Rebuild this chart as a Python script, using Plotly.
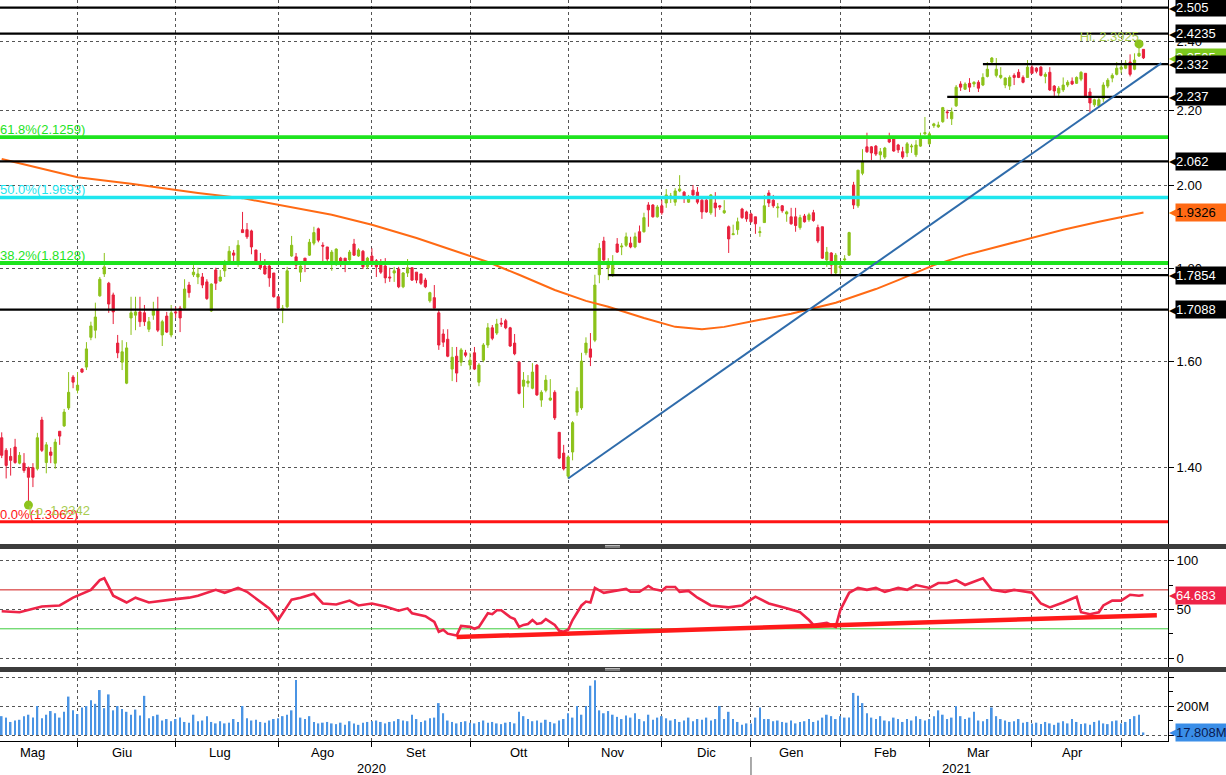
import math
import pandas as pd
import plotly.graph_objects as go

# ---------------- data ----------------
holidays = ["2020-12-24", "2020-12-25", "2020-12-31", "2021-01-01", "2021-04-02", "2021-04-05"]
trade_days = pd.bdate_range("2020-05-07", "2021-05-17", freq="C", holidays=holidays)
dates = [d.strftime("%Y-%m-%d") for d in trade_days]

opens = [
    1.453, 1.430, 1.419, 1.436, 1.407, 1.407, 1.399, 1.399, 1.397, 1.486,
    1.408, 1.427, 1.407, 1.465, 1.475, 1.509, 1.569, 1.543, 1.585, 1.589,
    1.650, 1.665, 1.739, 1.788, 1.767, 1.741, 1.638, 1.599, 1.557, 1.691,
    1.697, 1.704, 1.702, 1.667, 1.697, 1.708, 1.655, 1.695, 1.655, 1.704,
    1.712, 1.712, 1.763, 1.786, 1.781, 1.781, 1.770, 1.706, 1.797, 1.772,
    1.795, 1.815, 1.836, 1.815, 1.891, 1.891, 1.888, 1.843, 1.813, 1.806,
    1.806, 1.790, 1.737, 1.708, 1.715, 1.829, 1.827, 1.792, 1.824, 1.831,
    1.859, 1.893, 1.854, 1.850, 1.813, 1.815, 1.824, 1.824, 1.820, 1.857,
    1.829, 1.840, 1.804, 1.829, 1.818, 1.808, 1.806, 1.781, 1.790, 1.799,
    1.759, 1.790, 1.802, 1.792, 1.788, 1.774, 1.728, 1.735, 1.702, 1.657,
    1.646, 1.585, 1.611, 1.599, 1.618, 1.593, 1.618, 1.559, 1.603, 1.634,
    1.670, 1.659, 1.680, 1.685, 1.670, 1.638, 1.599, 1.551, 1.557, 1.547,
    1.593, 1.524, 1.543, 1.524, 1.539, 1.463, 1.425, 1.384, 1.427, 1.501,
    1.509, 1.618, 1.626, 1.644, 1.786, 1.864, 1.802, 1.786, 1.857, 1.850,
    1.854, 1.859, 1.850, 1.886, 1.886, 1.951, 1.951, 1.922, 1.949, 1.956,
    1.971, 1.958, 1.986, 1.983, 1.958, 1.988, 1.983, 1.963, 1.963, 1.932,
    1.956, 1.949, 1.932, 1.898, 1.879, 1.891, 1.941, 1.934, 1.929, 1.922,
    1.884, 1.908, 1.981, 1.963, 1.944, 1.949, 1.929, 1.922, 1.922, 1.896,
    1.924, 1.915, 1.932, 1.896, 1.898, 1.820, 1.836, 1.790, 1.802, 1.820,
    1.831, 2.001, 1.949, 2.031, 2.100, 2.100, 2.102, 2.079, 2.073, 2.124,
    2.121, 2.105, 2.087, 2.084, 2.100, 2.079, 2.102, 2.135, 2.108, 2.157,
    2.154, 2.168, 2.195, 2.176, 2.212, 2.274, 2.259, 2.276, 2.274, 2.279,
    2.271, 2.296, 2.338, 2.299, 2.293, 2.271, 2.268, 2.299, 2.308, 2.293,
    2.293, 2.323, 2.320, 2.323, 2.296, 2.308, 2.268, 2.248, 2.257, 2.271,
    2.282, 2.276, 2.288, 2.305, 2.251, 2.215, 2.212, 2.232, 2.268, 2.291,
    2.302, 2.317, 2.320, 2.338, 2.317, 2.356, 2.376,
]
highs = [
    1.463, 1.434, 1.434, 1.451, 1.427, 1.425, 1.401, 1.407, 1.462, 1.492,
    1.445, 1.436, 1.451, 1.465, 1.507, 1.579, 1.573, 1.579, 1.587, 1.640,
    1.683, 1.724, 1.781, 1.836, 1.770, 1.746, 1.655, 1.644, 1.640, 1.737,
    1.737, 1.737, 1.719, 1.693, 1.726, 1.737, 1.687, 1.704, 1.719, 1.715,
    1.717, 1.776, 1.770, 1.808, 1.802, 1.790, 1.776, 1.767, 1.802, 1.797,
    1.820, 1.852, 1.843, 1.866, 1.934, 1.907, 1.891, 1.843, 1.836, 1.822,
    1.815, 1.790, 1.737, 1.719, 1.804, 1.876, 1.836, 1.808, 1.824, 1.869,
    1.898, 1.896, 1.861, 1.850, 1.843, 1.847, 1.827, 1.824, 1.843, 1.869,
    1.847, 1.843, 1.827, 1.847, 1.822, 1.822, 1.824, 1.802, 1.804, 1.804,
    1.792, 1.822, 1.802, 1.792, 1.788, 1.779, 1.748, 1.763, 1.708, 1.667,
    1.667, 1.630, 1.630, 1.628, 1.624, 1.618, 1.630, 1.597, 1.638, 1.680,
    1.676, 1.689, 1.691, 1.689, 1.672, 1.657, 1.601, 1.579, 1.573, 1.597,
    1.595, 1.543, 1.573, 1.565, 1.543, 1.463, 1.440, 1.421, 1.484, 1.549,
    1.618, 1.650, 1.659, 1.786, 1.859, 1.874, 1.824, 1.831, 1.871, 1.859,
    1.884, 1.874, 1.884, 1.901, 1.932, 1.958, 1.953, 1.951, 1.963, 1.991,
    1.981, 1.993, 2.026, 1.986, 1.976, 2.001, 1.996, 1.971, 1.971, 1.978,
    1.983, 1.951, 1.963, 1.901, 1.903, 1.920, 1.944, 1.937, 1.932, 1.922,
    1.898, 1.976, 1.988, 1.976, 1.956, 1.951, 1.937, 1.944, 1.944, 1.927,
    1.929, 1.932, 1.939, 1.903, 1.898, 1.850, 1.838, 1.836, 1.811, 1.831,
    1.886, 2.009, 2.039, 2.094, 2.138, 2.102, 2.105, 2.097, 2.100, 2.138,
    2.127, 2.108, 2.100, 2.113, 2.108, 2.118, 2.138, 2.181, 2.141, 2.165,
    2.168, 2.209, 2.201, 2.207, 2.271, 2.282, 2.279, 2.291, 2.282, 2.285,
    2.305, 2.338, 2.353, 2.350, 2.323, 2.293, 2.299, 2.305, 2.317, 2.299,
    2.344, 2.329, 2.323, 2.326, 2.308, 2.323, 2.271, 2.268, 2.293, 2.285,
    2.293, 2.296, 2.311, 2.305, 2.262, 2.232, 2.234, 2.279, 2.291, 2.305,
    2.338, 2.335, 2.344, 2.361, 2.364, 2.3925, 2.376,
]
lows = [
    1.416, 1.380, 1.385, 1.406, 1.405, 1.390, 1.3342, 1.365, 1.394, 1.427,
    1.389, 1.407, 1.397, 1.440, 1.473, 1.505, 1.547, 1.537, 1.577, 1.583,
    1.644, 1.648, 1.737, 1.781, 1.702, 1.678, 1.607, 1.583, 1.555, 1.655,
    1.665, 1.672, 1.674, 1.661, 1.687, 1.661, 1.632, 1.659, 1.650, 1.691,
    1.661, 1.708, 1.735, 1.781, 1.765, 1.756, 1.730, 1.704, 1.752, 1.770,
    1.781, 1.813, 1.815, 1.804, 1.884, 1.869, 1.833, 1.813, 1.797, 1.786,
    1.759, 1.735, 1.708, 1.680, 1.712, 1.827, 1.799, 1.770, 1.792, 1.829,
    1.854, 1.861, 1.815, 1.815, 1.795, 1.806, 1.804, 1.792, 1.818, 1.829,
    1.827, 1.799, 1.799, 1.804, 1.781, 1.788, 1.767, 1.770, 1.770, 1.756,
    1.756, 1.781, 1.772, 1.767, 1.763, 1.756, 1.724, 1.712, 1.624, 1.630,
    1.609, 1.561, 1.559, 1.591, 1.609, 1.583, 1.583, 1.551, 1.599, 1.628,
    1.644, 1.655, 1.672, 1.667, 1.630, 1.613, 1.535, 1.509, 1.549, 1.545,
    1.532, 1.511, 1.539, 1.522, 1.486, 1.414, 1.394, 1.380, 1.412, 1.494,
    1.505, 1.613, 1.591, 1.640, 1.767, 1.815, 1.774, 1.781, 1.836, 1.831,
    1.850, 1.847, 1.847, 1.859, 1.884, 1.898, 1.920, 1.920, 1.927, 1.944,
    1.956, 1.949, 1.983, 1.956, 1.956, 1.971, 1.953, 1.917, 1.932, 1.927,
    1.922, 1.939, 1.929, 1.836, 1.879, 1.879, 1.917, 1.910, 1.908, 1.881,
    1.874, 1.908, 1.946, 1.944, 1.920, 1.932, 1.910, 1.903, 1.886, 1.891,
    1.908, 1.910, 1.910, 1.859, 1.822, 1.804, 1.788, 1.786, 1.786, 1.813,
    1.829, 1.941, 1.944, 2.026, 2.084, 2.065, 2.076, 2.065, 2.068, 2.110,
    2.087, 2.084, 2.068, 2.073, 2.084, 2.073, 2.100, 2.132, 2.105, 2.151,
    2.151, 2.165, 2.176, 2.159, 2.209, 2.254, 2.257, 2.251, 2.265, 2.251,
    2.268, 2.293, 2.335, 2.293, 2.288, 2.262, 2.257, 2.271, 2.291, 2.276,
    2.293, 2.305, 2.305, 2.296, 2.276, 2.254, 2.240, 2.237, 2.251, 2.265,
    2.271, 2.274, 2.282, 2.237, 2.195, 2.209, 2.207, 2.223, 2.262, 2.279,
    2.299, 2.305, 2.317, 2.296, 2.314, 2.353, 2.347,
]
closes = [
    1.421, 1.403, 1.412, 1.408, 1.421, 1.394, 1.382, 1.382, 1.453, 1.430,
    1.440, 1.421, 1.445, 1.456, 1.501, 1.539, 1.559, 1.553, 1.579, 1.626,
    1.674, 1.693, 1.776, 1.804, 1.721, 1.704, 1.618, 1.620, 1.628, 1.702,
    1.704, 1.683, 1.683, 1.683, 1.708, 1.665, 1.683, 1.661, 1.702, 1.702,
    1.691, 1.754, 1.746, 1.792, 1.788, 1.763, 1.733, 1.765, 1.767, 1.781,
    1.808, 1.840, 1.831, 1.854, 1.884, 1.874, 1.850, 1.815, 1.802, 1.788,
    1.779, 1.737, 1.712, 1.712, 1.795, 1.854, 1.808, 1.806, 1.813, 1.861,
    1.884, 1.866, 1.852, 1.822, 1.838, 1.845, 1.813, 1.815, 1.838, 1.831,
    1.843, 1.804, 1.824, 1.813, 1.804, 1.792, 1.779, 1.779, 1.795, 1.759,
    1.790, 1.802, 1.774, 1.774, 1.767, 1.759, 1.746, 1.712, 1.634, 1.640,
    1.611, 1.609, 1.577, 1.624, 1.613, 1.603, 1.585, 1.593, 1.634, 1.670,
    1.648, 1.678, 1.678, 1.670, 1.632, 1.616, 1.537, 1.563, 1.561, 1.579,
    1.534, 1.539, 1.563, 1.528, 1.490, 1.416, 1.397, 1.418, 1.481, 1.541,
    1.601, 1.638, 1.609, 1.763, 1.847, 1.820, 1.815, 1.815, 1.838, 1.852,
    1.874, 1.850, 1.874, 1.861, 1.920, 1.939, 1.922, 1.946, 1.932, 1.976,
    1.973, 1.986, 1.991, 1.968, 1.968, 1.976, 1.958, 1.934, 1.934, 1.976,
    1.944, 1.946, 1.937, 1.869, 1.881, 1.910, 1.920, 1.917, 1.910, 1.905,
    1.886, 1.949, 1.956, 1.949, 1.946, 1.937, 1.934, 1.905, 1.901, 1.920,
    1.910, 1.927, 1.913, 1.864, 1.824, 1.838, 1.808, 1.831, 1.806, 1.822,
    1.884, 1.951, 2.039, 2.060, 2.087, 2.084, 2.081, 2.087, 2.097, 2.113,
    2.089, 2.092, 2.073, 2.108, 2.102, 2.105, 2.124, 2.138, 2.135, 2.162,
    2.159, 2.207, 2.193, 2.195, 2.265, 2.265, 2.274, 2.265, 2.279, 2.262,
    2.293, 2.317, 2.350, 2.317, 2.299, 2.291, 2.293, 2.293, 2.293, 2.279,
    2.323, 2.305, 2.311, 2.299, 2.302, 2.257, 2.254, 2.262, 2.271, 2.279,
    2.274, 2.293, 2.308, 2.240, 2.220, 2.229, 2.229, 2.271, 2.285, 2.299,
    2.320, 2.323, 2.335, 2.302, 2.344, 2.364, 2.3505,
]

# volume in millions, month by month
vol_may20 = [130, 120, 90, 100, 105, 130, 140, 120, 200, 115, 140, 165, 150, 120, 160, 265, 170]
vol_jun20 = [145, 190, 200, 240, 215, 310, 185, 280, 170, 200, 180, 160, 140, 175, 135, 270, 115, 130, 140, 100, 110, 95]
vol_jul20 = [110, 120, 90, 85, 140, 95, 100, 130, 90, 80, 95, 80, 85, 110, 90, 200, 115, 100, 105, 90, 85, 100, 110]
vol_aug20 = [115, 130, 140, 170, 380, 120, 110, 130, 90, 80, 85, 90, 80, 75, 85, 70, 95, 80, 70, 85, 90]
vol_sep20 = [95, 100, 90, 80, 90, 95, 110, 100, 95, 140, 110, 90, 100, 115, 120, 220, 150, 100, 90, 80, 90, 95]
vol_oct20 = [85, 80, 90, 100, 85, 90, 80, 75, 85, 90, 80, 160, 130, 110, 95, 100, 85, 105, 90, 80, 100, 110]
vol_nov20 = [150, 120, 200, 140, 200, 340, 377, 170, 150, 165, 140, 125, 110, 135, 120, 150, 110, 95, 140, 105, 120]
vol_dec20 = [130, 115, 100, 110, 90, 100, 120, 95, 110, 105, 120, 100, 110, 200, 110, 160, 110, 90, 70, 80]
vol_jan21 = [80, 120, 190, 110, 110, 95, 100, 90, 85, 100, 80, 90, 95, 110, 90, 100, 120, 140, 130, 110]
vol_feb21 = [130, 120, 120, 290, 270, 220, 150, 120, 110, 130, 100, 95, 120, 110, 90, 110, 100, 130, 110, 100]
vol_mar21 = [110, 130, 170, 140, 110, 120, 200, 130, 110, 120, 160, 100, 95, 110, 190, 130, 110, 100, 90, 95, 110, 85, 90]
vol_apr21 = [80, 85, 75, 90, 80, 70, 85, 95, 80, 110, 90, 75, 80, 70, 90, 100, 80, 75, 95, 100]
vol_may21 = [80, 90, 110, 130, 140, 17.808]

# 200-day moving average (trading-day number, value)
ma_day = [1, 18, 30, 45, 55, 67, 75, 84, 94, 102, 110, 117, 125, 132, 137, 145, 152, 158, 163,
          171, 178, 188, 197, 202, 210, 217, 224, 232, 239, 247, 257]
ma_vals = [2.068, 2.021, 2.004, 1.981, 1.968, 1.944, 1.927, 1.903, 1.871, 1.843, 1.815, 1.786, 1.752,
           1.728, 1.715, 1.691, 1.672, 1.667, 1.672, 1.687, 1.700, 1.724, 1.754, 1.774, 1.808, 1.831,
           1.850, 1.871, 1.891, 1.910, 1.9326]

# RSI (trading-day number, value)
rsi_day = [1, 5, 10, 14, 17, 21, 23, 24, 26, 29, 31, 34, 39, 43, 45, 49, 51, 54, 56, 59, 61, 63, 66, 68, 71,
           73, 76, 79, 81, 84, 87, 90, 92, 93, 96, 98, 99, 100, 101, 103, 104, 106, 107, 108, 110, 111, 112,
           113, 115, 116, 117, 118, 119, 120, 121, 122, 123, 125, 126, 127, 128, 129, 130, 131, 132, 133,
           134, 136, 141, 142, 144, 146, 147, 149, 150, 152, 153, 155, 157, 160, 164, 167, 170, 173, 177,
           180, 182, 183, 186, 188, 189, 191, 193, 195, 197, 199, 202, 204, 206, 209, 211, 213, 215, 217,
           221, 223, 226, 228, 232, 234, 236, 239, 242, 243, 245, 247, 248, 250, 252, 254, 256, 257]
rsi_vals = [48, 47, 53, 54, 62, 70, 80, 82, 64, 57, 62, 57, 60, 62, 64, 70, 67, 72, 68, 58, 51, 39, 60, 62, 66,
            56, 55, 59, 54, 56, 53, 48.6, 51, 46, 43, 37, 27, 29, 25, 23, 33, 32, 30, 32, 46, 45, 49,
            49, 42, 40, 32, 34, 35, 39, 35, 36, 40, 34, 28, 27, 29, 39, 47, 54, 58, 57,
            72, 67, 71, 68, 68, 74, 71, 69, 73, 73, 68, 69, 62, 54, 52, 54, 63, 56, 51,
            47, 39, 34, 36, 32, 49, 67, 72, 70, 72, 68, 72, 70, 75, 72, 77, 77, 80, 75,
            82, 70, 68, 70, 67, 56, 52, 57, 63, 47, 45, 47, 54, 59, 59, 65, 64, 64.683]

# levels
black_levels = [2.505, 2.4235, 2.062, 1.7088]
support_levels = [2.332, 2.237, 1.7854]
support_start_day = [221, 213, 137]
fib_pct = ["61.8%", "50.0%", "38.2%", "0.0%"]
fib_levels = [2.1259, 1.9693, 1.8128, 1.3062]
trend_day = [128, 261]
trend_vals = [1.380, 2.335]
rsi_trend_day = [103, 260]
rsi_trend_vals = [21.6, 44.0]
hi_day, hi_val = 256, 2.3925
lo_day, lo_val = 7, 1.3342
last_price, last_ma, last_rsi, last_vol = 2.3505, 1.9326, 64.683, 17.808

month_starts = ["2020-06-01", "2020-07-01", "2020-08-03", "2020-09-01", "2020-10-01", "2020-11-02",
                "2020-12-01", "2021-01-04", "2021-02-01", "2021-03-01", "2021-04-01", "2021-05-03"]
month_labels = ["Mag", "Giu", "Lug", "Ago", "Set", "Ott", "Nov", "Dic", "Gen", "Feb", "Mar", "Apr"]
month_label_dates = ["2020-05-18", "2020-06-15", "2020-07-15", "2020-08-17", "2020-09-15", "2020-10-16",
                     "2020-11-16", "2020-12-15", "2021-01-15", "2021-02-15", "2021-03-16", "2021-04-16"]
year_labels = ["2020", "2021"]
year_label_dates = ["2020-09-01", "2021-03-09"]
year_sep_date = "2021-01-04"

# ---------------- build ----------------
volume = vol_may20 + vol_jun20 + vol_jul20 + vol_aug20 + vol_sep20 + vol_oct20 + vol_nov20 + \
    vol_dec20 + vol_jan21 + vol_feb21 + vol_mar21 + vol_apr21 + vol_may21
n = len(closes)
cd = dates[:n]
day = lambda k: dates[k - 1]

FONT = "Liberation Sans, Arial, sans-serif"
GREEN = "#8cc21a"
RED = "#e8203c"
FIBG = "#1ee41e"
CYAN = "#1ee6ee"
W, H = 1226, 775
ML, MR, MT, MB = 0, 58, 0, 34
PH = H - MT - MB
PW = W - ML - MR


def py(px):
    return (PH - (px - MT)) / PH


x_start = "2020-05-06 14:50"
x_end = "2021-05-17 12:00"

fig = go.Figure()

fig.add_trace(go.Scatter(x=[day(k) for k in ma_day], y=ma_vals, mode="lines",
                         line=dict(color="#ff6a14", width=2), xaxis="x", yaxis="y", hoverinfo="skip"))
fig.add_trace(go.Candlestick(x=cd, open=opens, high=highs, low=lows, close=closes,
                             increasing=dict(line=dict(color=GREEN, width=1), fillcolor=GREEN),
                             decreasing=dict(line=dict(color=RED, width=1), fillcolor=RED),
                             whiskerwidth=0, xaxis="x", yaxis="y"))

for v in black_levels:
    fig.add_trace(go.Scatter(x=[x_start, x_end], y=[v, v], mode="lines",
                             line=dict(color="black", width=2.2), xaxis="x", yaxis="y", hoverinfo="skip"))
for v, s in zip(support_levels, support_start_day):
    fig.add_trace(go.Scatter(x=[day(s), x_end], y=[v, v], mode="lines",
                             line=dict(color="black", width=2.2), xaxis="x", yaxis="y", hoverinfo="skip"))
fib_colors = [FIBG, CYAN, FIBG, "#ff1414"]
fib_widths = [3.8, 3.5, 3.8, 3.0]
for v, c, w_ in zip(fib_levels, fib_colors, fib_widths):
    fig.add_trace(go.Scatter(x=[x_start, x_end], y=[v, v], mode="lines",
                             line=dict(color=c, width=w_), xaxis="x", yaxis="y", hoverinfo="skip"))
for p, v, c in zip(fib_pct, fib_levels, fib_colors):
    fig.add_trace(go.Scatter(x=[x_start], y=[v], mode="text", text=[f"{p}({v:.4f})"],
                             textposition="top right", textfont=dict(color=c, size=13, family=FONT),
                             xaxis="x", yaxis="y", hoverinfo="skip", cliponaxis=False))

fig.add_trace(go.Scatter(x=[day(k) for k in trend_day], y=trend_vals, mode="lines",
                         line=dict(color="#2f6cab", width=2), xaxis="x", yaxis="y", hoverinfo="skip"))

fig.add_trace(go.Scatter(x=[day(hi_day), day(lo_day)], y=[hi_val, lo_val], mode="markers",
                         marker=dict(color="#8cc41c", size=9), xaxis="x", yaxis="y", hoverinfo="skip"))
fig.add_trace(go.Scatter(x=[day(hi_day)], y=[hi_val], mode="text", text=[f"Hi. {hi_val}"],
                         textposition="top left", textfont=dict(color="#a8cc50", size=13, family=FONT),
                         xaxis="x", yaxis="y", hoverinfo="skip"))
fig.add_trace(go.Scatter(x=[day(lo_day)], y=[lo_val], mode="text", text=[f"Lo. {lo_val}"],
                         textposition="bottom right", textfont=dict(color="#a8cc50", size=13, family=FONT),
                         xaxis="x", yaxis="y", hoverinfo="skip"))

# RSI panel
fig.add_trace(go.Scatter(x=[x_start, x_end], y=[70, 70], mode="lines", line=dict(color="#d01818", width=1),
                         xaxis="x2", yaxis="y2", hoverinfo="skip"))
fig.add_trace(go.Scatter(x=[x_start, x_end], y=[30, 30], mode="lines", line=dict(color="#3ccc3c", width=1),
                         xaxis="x2", yaxis="y2", hoverinfo="skip"))
fig.add_trace(go.Scatter(x=[day(k) for k in rsi_day], y=rsi_vals, mode="lines",
                         line=dict(color="#ee2448", width=2.6), xaxis="x2", yaxis="y2", hoverinfo="skip"))
fig.add_trace(go.Scatter(x=[day(k) for k in rsi_trend_day], y=rsi_trend_vals, mode="lines",
                         line=dict(color="#ff1a1a", width=4.5), xaxis="x2", yaxis="y2", hoverinfo="skip"))

# Volume panel
fig.add_trace(go.Bar(x=cd, y=volume, marker=dict(color="#4a94e4", line=dict(width=0)),
                     width=0.38 * 86400000, xaxis="x3", yaxis="y3", hoverinfo="skip"))

rb = [dict(bounds=["sat", "mon"]), dict(values=holidays)]
xbase = dict(type="date", range=[x_start, x_end], rangebreaks=rb, tickvals=month_starts,
             showgrid=True, gridcolor="#555555", griddash="dot", gridwidth=1,
             showticklabels=False, zeroline=False, fixedrange=True)
ybase = dict(side="right", showline=True, linecolor="black", linewidth=1, ticks="outside", ticklen=5,
             tickcolor="black", showgrid=True, gridcolor="#555555", griddash="dot", gridwidth=1,
             zeroline=False, tickfont=dict(family=FONT, size=13, color="black"), fixedrange=True)

price_ticks = [1.4, 1.6, 1.8, 2.0, 2.2, 2.4]
fig.update_layout(
    width=W, height=H, margin=dict(l=ML, r=MR, t=MT, b=MB),
    paper_bgcolor="white", plot_bgcolor="white", showlegend=False,
    font=dict(family=FONT, size=13, color="black"),
    xaxis=dict(xbase, anchor="y", rangeslider=dict(visible=False)),
    xaxis2=dict(xbase, anchor="y2", matches="x"),
    xaxis3=dict(xbase, anchor="y3", matches="x", ticks="outside", ticklen=5, tickcolor="black",
                showline=True, linecolor="black", linewidth=1),
    yaxis=dict(ybase, anchor="x", domain=[py(544), 1.0], type="log",
               range=[math.log10(1.2701), math.log10(2.5292)],
               tickvals=price_ticks, ticktext=[f"{t:.2f}" for t in price_ticks]),
    yaxis2=dict(ybase, anchor="x2", domain=[py(667), py(549)], range=[-9.25, 112],
                tickvals=[0, 50, 100], ticktext=["0", "50", "100"],
                minor=dict(tickvals=[25, 75], ticks="outside", ticklen=4, tickcolor="black", showgrid=False)),
    yaxis3=dict(ybase, anchor="x3", domain=[0, py(672)], range=[-41.4, 434.5],
                tickvals=[0, 200, 400], ticktext=["", "200M", ""],
                minor=dict(tickvals=[100, 300], ticks="outside", ticklen=4, tickcolor="black", showgrid=False)),
)

# separator bars
for top, bot in [(544, 549), (667, 672)]:
    fig.add_shape(type="rect", xref="paper", yref="paper", x0=0, x1=W / PW, y0=py(bot), y1=py(top),
                  fillcolor="#3c3c3c", line=dict(width=0), layer="above")
    fig.add_shape(type="line", xref="paper", yref="paper", x0=605 / PW, x1=620 / PW,
                  y0=py(top + 1.5), y1=py(top + 1.5), line=dict(color="#bbbbbb", width=1), layer="above")
    fig.add_shape(type="line", xref="paper", yref="paper", x0=605 / PW, x1=620 / PW,
                  y0=py(top + 3), y1=py(top + 3), line=dict(color="#bbbbbb", width=1), layer="above")

# year separator
fig.add_shape(type="line", xref="x3", yref="paper", x0=year_sep_date, x1=year_sep_date,
              y0=py(775), y1=py(757), line=dict(color="#555555", width=1))

for lab, d in zip(month_labels, month_label_dates):
    fig.add_annotation(xref="x3", yref="paper", x=d, y=py(752), text=lab, showarrow=False,
                       font=dict(family=FONT, size=13, color="black"), yanchor="middle")
for lab, d in zip(year_labels, year_label_dates):
    fig.add_annotation(xref="x3", yref="paper", x=d, y=py(768), text=lab, showarrow=False,
                       font=dict(family=FONT, size=13, color="black"), yanchor="middle")


def callout(yref, yval, text, bg, fg):
    fig.add_annotation(xref="paper", x=1.0, xanchor="left", xshift=-1, yref=yref, y=yval, yanchor="middle",
                       text="◀", showarrow=False, font=dict(color=bg, size=15, family="DejaVu Sans"))
    fig.add_annotation(xref="paper", x=1.0, xanchor="left", xshift=7, yref=yref, y=yval, yanchor="middle",
                       text=text, showarrow=False, bgcolor=bg, font=dict(color=fg, size=13, family=FONT),
                       borderpad=0, width=52, height=17, align="left")


callout("y", math.log10(black_levels[0]), f"{black_levels[0]}", "black", "white")
callout("y", math.log10(black_levels[1]), f"{black_levels[1]}", "black", "white")
callout("y", math.log10(last_price), f"{last_price}", "#7cc81e", "white")
callout("y", math.log10(support_levels[0]), f"{support_levels[0]}", "black", "white")
callout("y", math.log10(support_levels[1]), f"{support_levels[1]}", "black", "white")
callout("y", math.log10(black_levels[2]), f"{black_levels[2]}", "black", "white")
callout("y", math.log10(last_ma), f"{last_ma}", "#ff6a14", "black")
callout("y", math.log10(support_levels[2]), f"{support_levels[2]}", "black", "white")
callout("y", math.log10(black_levels[3]), f"{black_levels[3]}", "black", "white")
callout("y2", last_rsi, f"{last_rsi}", "#ee2448", "white")
callout("y3", last_vol, f"{last_vol}M", "#3a8ee8", "#0a1a50")

fig.write_html("out.html", config={"displayModeBar": False},
               post_script="document.body.style.margin='0';document.body.style.padding='0';")
